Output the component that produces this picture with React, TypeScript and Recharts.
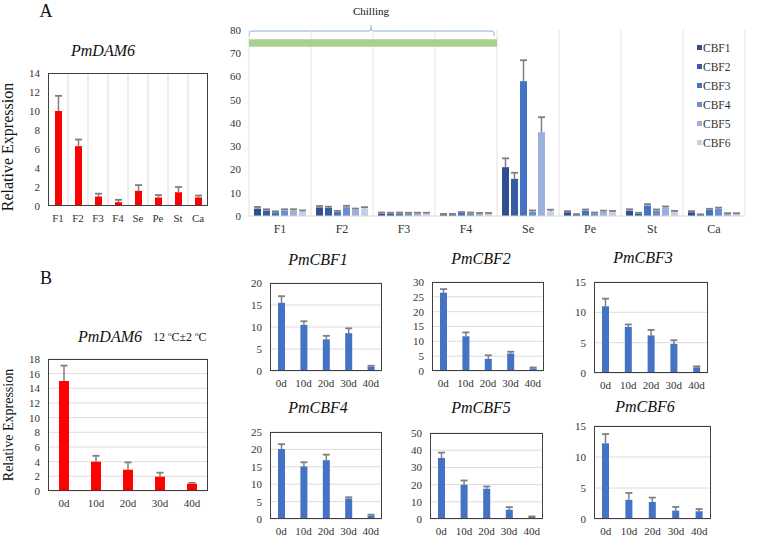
import React from 'react';
import { BarChart, Bar, XAxis, YAxis, CartesianGrid, Legend, ReferenceArea } from 'recharts';

const tissues = ['F1', 'F2', 'F3', 'F4', 'Se', 'Pe', 'St', 'Ca'];
const days = ['0d', '10d', '20d', '30d', '40d'];

// panel A, PmDAM6 per tissue
const dam6Tissue = [10, 6.3, 1.0, 0.4, 1.6, 0.9, 1.45, 0.9];
const dam6TissueErr = [1.6, 0.7, 0.3, 0.25, 0.6, 0.25, 0.55, 0.2];

// panel A, CBF1-6 per tissue
const cbfNames = ['CBF1', 'CBF2', 'CBF3', 'CBF4', 'CBF5', 'CBF6'];
const cbfColors = ['#2f5090', '#375ca4', '#4472c4', '#6a8dd0', '#9cb0dd', '#c5cfea'];
const cbf1Tissue = [3.2, 3.7, 1.0, 0.6, 21, 1.6, 2.3, 1.6];
const cbf2Tissue = [2.4, 3.5, 1.0, 0.6, 16, 0.5, 1.0, 0.4];
const cbf3Tissue = [1.6, 1.7, 1.1, 1.3, 58, 2.3, 4.5, 2.6];
const cbf4Tissue = [2.4, 3.8, 1.0, 1.1, 1.8, 1.1, 2.3, 3.1];
const cbf5Tissue = [2.4, 2.7, 1.0, 0.9, 36, 1.8, 3.6, 0.9];
const cbf6Tissue = [1.9, 3.2, 1.0, 0.9, 2.0, 1.7, 1.7, 0.9];
const cbf1TissueErr = [0.7, 0.6, 0.5, 0.3, 3.8, 0.5, 0.6, 0.5];
const cbf2TissueErr = [0.5, 0.5, 0.4, 0.3, 2.6, 0.3, 0.4, 0.3];
const cbf3TissueErr = [0.4, 0.5, 0.4, 0.4, 9, 0.5, 0.6, 0.5];
const cbf4TissueErr = [0.5, 0.6, 0.4, 0.4, 0.6, 0.4, 0.5, 0.5];
const cbf5TissueErr = [0.5, 0.5, 0.4, 0.4, 6.5, 0.5, 0.5, 0.3];
const cbf6TissueErr = [0.5, 0.6, 0.4, 0.4, 0.7, 0.5, 0.5, 0.3];

// panel B, 12 C treatment
const dam6Cold = [15, 4.0, 2.9, 1.95, 1.0];
const dam6ColdErr = [2.1, 0.8, 1.0, 0.55, 0.12];
const cbf1Cold = [15.5, 10.5, 7.2, 8.6, 1.0];
const cbf1ColdErr = [1.5, 0.8, 0.8, 1.1, 0.2];
const cbf2Cold = [26.4, 11.7, 4.1, 5.9, 0.9];
const cbf2ColdErr = [1.2, 1.3, 1.2, 0.6, 0.3];
const cbf3Cold = [11.0, 7.6, 6.2, 4.8, 0.93];
const cbf3ColdErr = [1.25, 0.4, 0.9, 0.6, 0.17];
const cbf4Cold = [20.1, 15.1, 16.9, 5.9, 1.0];
const cbf4ColdErr = [1.4, 1.2, 1.6, 0.35, 0.25];
const cbf5Cold = [35.5, 19.9, 17.6, 5.4, 1.15];
const cbf5ColdErr = [3.1, 2.5, 1.3, 1.5, 0.35];
const cbf6Cold = [12.2, 3.1, 2.75, 1.35, 1.25];
const cbf6ColdErr = [1.5, 1.1, 0.7, 0.6, 0.35];

const ticks14 = [0, 2, 4, 6, 8, 10, 12, 14];
const ticks18 = [0, 2, 4, 6, 8, 10, 12, 14, 16, 18];
const ticks80 = [0, 10, 20, 30, 40, 50, 60, 70, 80];
const ticks15 = [0, 5, 10, 15];
const ticks20 = [0, 5, 10, 15, 20];
const ticks25 = [0, 5, 10, 15, 20, 25];
const ticks30 = [0, 5, 10, 15, 20, 25, 30];
const ticks50 = [0, 10, 20, 30, 40, 50];

const FONT = '"Liberation Serif", "DejaVu Serif", serif';
const ERR = '#7f7f7f';
const RED = '#ff0000';
const BLUE = '#4472c4';
const YW = 36;
const MT = 8;
const MR = 6;
const XH = 24;
const tickStyle = { fontSize: 11, fill: '#333', fontFamily: FONT };

// bar + plus-only error bar, scaled from the bar's own geometry
const barWithErr = (key: string, errKey: string, fill: string) => (props: any) => {
  const { x, y, width, height, payload } = props;
  const v = payload[key];
  const e = payload[errKey];
  const k = v > 0 ? height / v : 0;
  const top = y - e * k;
  const cx = x + width / 2;
  const cap = Math.min(width, 7);
  return (
    <g>
      <rect x={x} y={y} width={width} height={height} fill={fill} />
      <line x1={cx} x2={cx} y1={y} y2={top} stroke={ERR} strokeWidth={1.5} />
      <line x1={cx - cap / 2} x2={cx + cap / 2} y1={top} y2={top} stroke={ERR} strokeWidth={1.8} />
    </g>
  );
};

const boundaries = (n: number, withEdges: boolean) => (props: any) => {
  const { offset } = props;
  const out: number[] = [];
  for (let i = withEdges ? 0 : 1; i <= (withEdges ? n : n - 1); i++) out.push(offset.left + (i * offset.width) / n);
  return out;
};

type PanelProps = {
  x0: number; x1: number; y0: number; y1: number;
  cats: string[]; vals: number[]; errs: number[];
  ticks: number[]; fill: string; barSize: number; grid: 'h' | 'v';
};

function Panel(p: PanelProps) {
  const data = p.cats.map((c, i) => ({ cat: c, v: p.vals[i], e: p.errs[i] }));
  const W = p.x1 - p.x0;
  const H = p.y1 - p.y0;
  const max = p.ticks[p.ticks.length - 1];
  return (
    <div style={{ position: 'absolute', left: p.x0 - YW, top: p.y0 - MT, width: W + YW + MR, height: H + MT + XH }}>
      <BarChart width={W + YW + MR} height={H + MT + XH} data={data} margin={{ top: MT, right: MR, bottom: 0, left: 0 }}>
        <CartesianGrid
          horizontal={p.grid === 'h'}
          vertical={p.grid === 'v'}
          stroke="#dcdcdc"
          verticalCoordinatesGenerator={boundaries(p.cats.length, false)}
        />
        <XAxis dataKey="cat" height={XH} tickLine={false} axisLine={false} tick={tickStyle} interval={0} />
        <YAxis width={YW} domain={[0, max]} ticks={p.ticks} interval={0} tickLine={false} axisLine={false} tick={tickStyle} tickSize={5} tickMargin={3} />
        <Bar dataKey="v" isAnimationActive={false} barSize={p.barSize} shape={barWithErr('v', 'e', p.fill)} />
      </BarChart>
      <div style={{ position: 'absolute', left: YW, top: MT, width: W, height: H, border: '1px solid #404040', boxSizing: 'border-box', pointerEvents: 'none' }} />
    </div>
  );
}

function Txt({ x, y, size, italic, children }: { x: number; y: number; size: number; italic?: boolean; children: React.ReactNode }) {
  return (
    <div style={{ position: 'absolute', left: x, top: y, transform: 'translate(-50%,-50%)', fontSize: size, fontStyle: italic ? 'italic' : 'normal', whiteSpace: 'nowrap', lineHeight: 1, color: '#111' }}>
      {children}
    </div>
  );
}

function YLabel({ x, y, size }: { x: number; y: number; size: number }) {
  return (
    <div style={{ position: 'absolute', left: x, top: y, transform: 'translate(-50%,-50%) rotate(-90deg)', fontSize: size, whiteSpace: 'nowrap', lineHeight: 1, color: '#111' }}>
      Relative Expression
    </div>
  );
}

function CbfTissueChart() {
  const data = tissues.map((t, i) => ({
    cat: t,
    c1: cbf1Tissue[i], e1: cbf1TissueErr[i],
    c2: cbf2Tissue[i], e2: cbf2TissueErr[i],
    c3: cbf3Tissue[i], e3: cbf3TissueErr[i],
    c4: cbf4Tissue[i], e4: cbf4TissueErr[i],
    c5: cbf5Tissue[i], e5: cbf5TissueErr[i],
    c6: cbf6Tissue[i], e6: cbf6TissueErr[i],
  }));
  const x0 = 249, x1 = 745, y0 = 30, y1 = 216;
  const W = x1 - x0, H = y1 - y0;
  return (
    <div style={{ position: 'absolute', left: x0 - YW, top: y0 - MT, width: W + YW + MR, height: H + MT + XH }}>
      <BarChart width={W + YW + MR} height={H + MT + XH} data={data} margin={{ top: MT, right: MR, bottom: 0, left: 0 }} barGap={2}>
        <CartesianGrid horizontal={false} vertical stroke="#e3e3e3" verticalCoordinatesGenerator={boundaries(tissues.length, true)} />
        <XAxis dataKey="cat" height={XH} tickLine={false} axisLine={{ stroke: '#d9d9d9' }} tick={{ ...tickStyle, fontSize: 12 }} interval={0} />
        <YAxis width={YW} domain={[0, 80]} ticks={ticks80} interval={0} tickLine={false} axisLine={false} tick={tickStyle} tickSize={5} tickMargin={3} />
        <ReferenceArea x1="F1" x2="F4" y1={72.8} y2={76} fill="#a9d18e" fillOpacity={1} stroke="none" ifOverflow="visible" />
        {cbfNames.map((n, i) => (
          <Bar
            key={n}
            name={n}
            dataKey={`c${i + 1}`}
            fill={cbfColors[i]}
            isAnimationActive={false}
            barSize={7}
            shape={barWithErr(`c${i + 1}`, `e${i + 1}`, cbfColors[i])}
          />
        ))}
        <Legend
          layout="vertical"
          align="center"
          verticalAlign="middle"
          wrapperStyle={{ position: 'absolute', left: 697 - (x0 - YW), top: 38 - (y0 - MT), width: 50 }}
          content={() => (
            <div>
              {cbfNames.map((n, i) => (
                <div key={n} style={{ display: 'flex', alignItems: 'center', height: 19, fontSize: 11.5, fontFamily: FONT, color: '#333' }}>
                  <span style={{ display: 'inline-block', width: 5, height: 5, background: cbfColors[i], marginRight: 1 }} />
                  {n}
                </div>
              ))}
            </div>
          )}
        />
      </BarChart>
    </div>
  );
}

export default function App() {
  return (
    <div style={{ position: 'absolute', left: 0, top: 0, width: 760, height: 536, background: '#fff', fontFamily: FONT, overflow: 'hidden' }}>
      <Txt x={46} y={11} size={18}>A</Txt>
      <Txt x={46} y={278} size={18}>B</Txt>

      <Txt x={103} y={51} size={16}>
        <i>PmDAM6</i>
      </Txt>
      <YLabel x={8} y={147} size={16} />
      <Panel x0={48} x1={208} y0={73} y1={206} cats={tissues} vals={dam6Tissue} errs={dam6TissueErr} ticks={ticks14} fill={RED} barSize={7} grid="v" />

      <Txt x={371} y={11} size={11}>Chilling</Txt>
      <svg width={760} height={536} style={{ position: 'absolute', left: 0, top: 0, pointerEvents: 'none' }}>
        <path d="M249.5,36 L249.5,33 Q249.5,31 252,31 L369,31 Q371,31 371,28 L371,25 M371,28 Q371,31 373,31 L491.5,31 Q494,31 494,33 L494,36" fill="none" stroke="#8faadc" strokeWidth={1} />
      </svg>
      <CbfTissueChart />

      <Txt x={110} y={337} size={16} italic>PmDAM6</Txt>
      <div style={{ position: 'absolute', left: 153, top: 331, fontSize: 12, lineHeight: 1, whiteSpace: 'nowrap', color: '#111' }}>
        12 <sup style={{ fontSize: 7 }}>o</sup>C±2 <sup style={{ fontSize: 7 }}>o</sup>C
      </div>
      <YLabel x={9} y={425} size={14} />
      <Panel x0={48} x1={208} y0={359} y1={491} cats={days} vals={dam6Cold} errs={dam6ColdErr} ticks={ticks18} fill={RED} barSize={10} grid="h" />

      <Txt x={318} y={260} size={16} italic>PmCBF1</Txt>
      <Txt x={481} y={259} size={16} italic>PmCBF2</Txt>
      <Txt x={643} y={258} size={16} italic>PmCBF3</Txt>
      <Txt x={318} y={408} size={16} italic>PmCBF4</Txt>
      <Txt x={481} y={408} size={16} italic>PmCBF5</Txt>
      <Txt x={645} y={407} size={16} italic>PmCBF6</Txt>

      <Panel x0={270} x1={382} y0={283} y1={371} cats={days} vals={cbf1Cold} errs={cbf1ColdErr} ticks={ticks20} fill={BLUE} barSize={7} grid="h" />
      <Panel x0={432} x1={544} y0={282} y1={371} cats={days} vals={cbf2Cold} errs={cbf2ColdErr} ticks={ticks30} fill={BLUE} barSize={7} grid="h" />
      <Panel x0={594} x1={708} y0={282} y1={373} cats={days} vals={cbf3Cold} errs={cbf3ColdErr} ticks={ticks15} fill={BLUE} barSize={7} grid="h" />
      <Panel x0={270} x1={382} y0={432} y1={519} cats={days} vals={cbf4Cold} errs={cbf4ColdErr} ticks={ticks25} fill={BLUE} barSize={7} grid="h" />
      <Panel x0={430} x1={543} y0={433} y1={519} cats={days} vals={cbf5Cold} errs={cbf5ColdErr} ticks={ticks50} fill={BLUE} barSize={7} grid="h" />
      <Panel x0={594} x1={711} y0={426} y1={519} cats={days} vals={cbf6Cold} errs={cbf6ColdErr} ticks={ticks15} fill={BLUE} barSize={7} grid="h" />
    </div>
  );
}
